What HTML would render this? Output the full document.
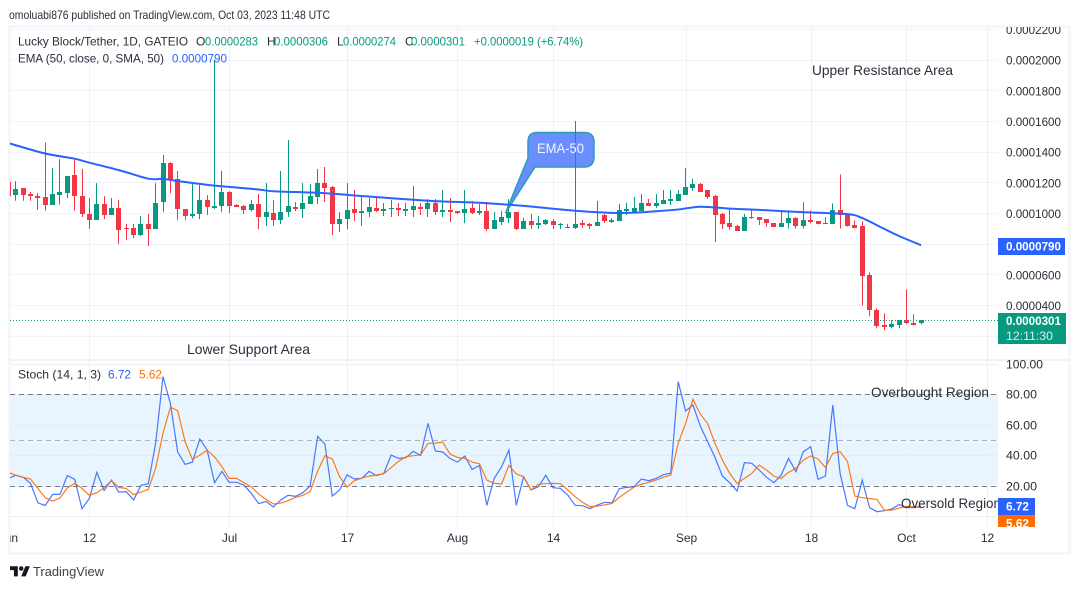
<!DOCTYPE html>
<html lang="en">
<head>
<meta charset="utf-8">
<title>Lucky Block/Tether chart</title>
<style>
html,body{margin:0;padding:0;background:#fff;width:1080px;height:589px;overflow:hidden}
svg{display:block}
text{font-family:"Liberation Sans",sans-serif;fill:#2a2e39}
</style>
</head>
<body>
<svg id="chart" xmlns="http://www.w3.org/2000/svg" width="1080" height="589" viewBox="0 0 1080 589">
  <defs>
    <clipPath id="main-clip"><rect x="10" y="27" width="988" height="332"/></clipPath>
    <clipPath id="stoch-clip"><rect x="10" y="361" width="988" height="165"/></clipPath>
    <clipPath id="tag-clip"><rect x="998" y="490" width="40" height="37"/></clipPath>
    <clipPath id="label-clip"><rect x="10" y="27" width="1059" height="526"/></clipPath>
  </defs>
  <text x="9" y="19" font-size="12" textLength="321" lengthAdjust="spacingAndGlyphs">omoluabi876 published on TradingView.com, Oct 03, 2023 11:48 UTC</text>
  <rect x="9.5" y="26.5" width="1060" height="527" fill="none" stroke="#f0f3fa" stroke-width="2"/>
  <line x1="10" y1="360" x2="1069" y2="360" stroke="#e6e8ef" stroke-width="1"/>
  <rect x="10" y="394" width="988" height="91.5" fill="#e9f5fe"/>
  <g id="grid"></g>
  <path d="M537 132.5 H584 Q594 132.5 594 142 V157 Q594 167 584 167 H535 L505.5 213 L528 158 V142 Q528 132.5 537 132.5 Z" fill="#6b8eff" stroke="#2d9cb5" stroke-width="1.5"/>
  <g id="candles" clip-path="url(#main-clip)"></g>
  <g id="ema" clip-path="url(#main-clip)"></g>
  <g id="stoch" clip-path="url(#stoch-clip)"></g>
  <text x="537" y="153" font-size="14" style="fill:#f4f6ff" textLength="47" lengthAdjust="spacingAndGlyphs">EMA-50</text>

  <g font-size="12">
    <text x="18" y="45.5" textLength="170" lengthAdjust="spacingAndGlyphs">Lucky Block/Tether, 1D, GATEIO</text>
    <text x="196" y="45.5">O</text>
    <text x="205" y="45.5" style="fill:#089981" textLength="53" lengthAdjust="spacingAndGlyphs">0.0000283</text>
    <text x="267" y="45.5">H</text>
    <text x="274" y="45.5" style="fill:#089981" textLength="54" lengthAdjust="spacingAndGlyphs">0.0000306</text>
    <text x="337" y="45.5">L</text>
    <text x="343" y="45.5" style="fill:#089981" textLength="53" lengthAdjust="spacingAndGlyphs">0.0000274</text>
    <text x="405" y="45.5">C</text>
    <text x="411" y="45.5" style="fill:#089981" textLength="54" lengthAdjust="spacingAndGlyphs">0.0000301</text>
    <text x="474" y="45.5" style="fill:#089981" textLength="109" lengthAdjust="spacingAndGlyphs">+0.0000019 (+6.74%)</text>
    <text x="18" y="62.5" textLength="146" lengthAdjust="spacingAndGlyphs">EMA (50, close, 0, SMA, 50)</text>
    <text x="172" y="62.5" style="fill:#2962ff" textLength="55" lengthAdjust="spacingAndGlyphs">0.0000790</text>
  </g>
  <text x="812" y="75" font-size="14" textLength="141" lengthAdjust="spacingAndGlyphs">Upper Resistance Area</text>
  <text x="187" y="354" font-size="14" textLength="123" lengthAdjust="spacingAndGlyphs">Lower Support Area</text>
  <g font-size="12">
    <text x="18" y="378.5" textLength="83" lengthAdjust="spacingAndGlyphs">Stoch (14, 1, 3)</text>
    <text x="108" y="378.5" style="fill:#2962ff" textLength="23" lengthAdjust="spacingAndGlyphs">6.72</text>
    <text x="139" y="378.5" style="fill:#ff6d00" textLength="23" lengthAdjust="spacingAndGlyphs">5.62</text>
  </g>
  <text x="871" y="397" font-size="14" textLength="118" lengthAdjust="spacingAndGlyphs">Overbought Region</text>
  <text x="901" y="508" font-size="14" textLength="100" lengthAdjust="spacingAndGlyphs">Oversold Region</text>

  <g id="axis-labels" clip-path="url(#label-clip)"></g>

  <rect x="998" y="238" width="67" height="17" fill="#2962ff"/>
  <text x="1006" y="250.5" font-size="12" font-weight="bold" style="fill:#fff" textLength="55" lengthAdjust="spacingAndGlyphs">0.0000790</text>
  <rect x="998" y="313" width="68" height="31" fill="#089981"/>
  <text x="1006" y="325" font-size="12" font-weight="bold" style="fill:#fff" textLength="55" lengthAdjust="spacingAndGlyphs">0.0000301</text>
  <text x="1006" y="340" font-size="12" style="fill:#d5f0ea" textLength="47" lengthAdjust="spacingAndGlyphs">12:11:30</text>
  <rect x="998" y="498" width="37" height="17" fill="#2962ff"/>
  <text x="1006" y="510.5" font-size="12" font-weight="bold" style="fill:#fff" textLength="23" lengthAdjust="spacingAndGlyphs">6.72</text>
  <g clip-path="url(#tag-clip)">
    <rect x="998" y="515" width="37" height="17" fill="#ff6d00"/>
    <text x="1006" y="527.5" font-size="12" font-weight="bold" style="fill:#fff" textLength="23" lengthAdjust="spacingAndGlyphs">5.62</text>
  </g>

  <g transform="translate(10 564) scale(0.56)" fill="#131722">
    <path d="M14 22H7V11H0V4h14v18zM28 22h-8l7.5-18h8L28 22z"/>
    <circle cx="20" cy="8" r="4"/>
  </g>
  <text x="33" y="576" font-size="12.5" style="fill:#3c404c" textLength="71" lengthAdjust="spacingAndGlyphs">TradingView</text>
</svg>
<script>
// Prices are in units of 0.000001 USDT. Index 0 is June 1, one candle per day.
const opens = [
120,111.9,116.3,112.4,111,110.4,105.4,111.7,113,124.8,
111,99.3,95.4,105.8,98.7,103.2,90.2,90.2,85.6,92.8,
89.5,107.1,132.6,122.1,102.6,98,99.3,108.4,103.2,104.5,
113.7,105.2,104.5,101.9,105.8,97.4,100,95.4,100.6,103.9,
102.6,105.8,110.4,119.5,116.9,92.8,96,102.6,100,100.6,
103.2,101.3,102.6,103.2,101.3,101.9,103.9,102.6,106.5,100.6,
101.9,101.3,100,103.2,100,101.3,89.5,94.1,96.7,100.6,
89.6,94.8,92.2,92.9,94.8,92.2,90.3,90.3,93.5,92.9,
91.6,98.7,94.2,94.8,101.3,100.7,101.3,106.6,104.6,105.9,
107.9,107.9,111.8,116.4,119,115,111.1,99.4,93.5,91.6,
88.3,97.4,97.4,96.1,93.3,91.1,93.3,96.7,91.7,95.2,
94.6,93.1,93,101.7,98.5,92,91.3,59.3,36.5,26.9,
25.9,27.2,30,28,28.3];
const highs = [
120,120.8,116.3,113.7,113,146,129.3,135.2,124.1,135.8,
128.7,109.7,119.5,111,109.8,108.4,92.8,92.8,98,99.3,
119.5,137.8,133.2,127.4,102.6,119.5,118.2,111.7,200,127.4,
114.3,105.8,105.2,108.4,112.4,119.5,108.4,127.4,147.6,107.1,
119.5,118.9,128.7,130,117.6,100.6,119.5,115,111.7,109.8,
111,106.5,108.4,106.5,106.5,117.6,106.5,109.1,109.1,115,
109.8,101.3,115,107.8,105.8,107.1,100.6,101.3,109,100.6,
96.8,99.4,98.1,96.1,96.1,93.5,92.9,160,95.5,93.5,
107.9,99.4,96.8,105.9,106.6,110.5,112.4,109.2,112.4,115,
115,115,129.4,122.2,119.6,115,111.8,100,102.7,92.2,
99.4,102.7,97.4,96.1,93.3,101.1,101.7,97.2,107,101.7,
94.6,97.2,106.3,125.2,98.5,95.2,94.6,61.3,37.8,34.6,
30,30,50.2,33.9,30];
const lows = [
108,108,108,108,102.1,101.5,105.4,105.4,109.8,101.5,
97.4,89.7,95.4,96,98.7,79.7,82.4,83.7,85,78.4,
89.5,100.6,113,95.4,95.4,96.7,96,98.7,102.6,100.6,
100,103.9,99.3,101,89.5,91.5,91.5,92.8,97.4,101.3,
96.7,105.8,105.8,107.1,85.6,87.6,89.5,94.8,91.5,97.4,
100.6,98,97.4,98,98,97.4,98.7,97.4,98.7,97.4,
94.1,99.3,93.4,99.3,98.7,88.2,89.5,92.1,93.4,88.9,
89.6,89.6,89.6,92.2,89.6,89.6,90.3,89.6,90.3,89.6,
91.6,93.5,93.5,94.8,98.7,100.7,101.3,104.6,103.3,105.9,
105.3,107.9,111.8,114.4,113.7,109.2,81.1,89.6,89,88.3,
88.3,96.1,92.2,91.1,91.1,91.1,89.8,89.8,89.8,93.3,
92.6,93,93,89.8,91.1,90,39.6,32.6,24.8,23.5,
24.8,24.8,27.4,26.7,27.4];
const closes = [
111,115.6,111.9,111,109.8,105.4,112.4,113.7,124.1,111,
99.5,95.4,105.8,98.7,103.2,88.9,89.5,85.6,92.8,89.5,
106.5,132.6,121.5,102.6,98,99.3,108.4,103.9,104.5,113.7,
104.5,103.9,101.9,105.8,97.4,100.6,95.4,100.6,104.5,102.6,
106.5,111,119.5,116.3,92.8,96,101.9,100,101.3,103.9,
101.3,102.6,103.2,101.9,102.6,104.5,102.6,106.5,100.6,101.9,
100.6,100,102.6,100,101.3,89.5,95.4,97.4,100.6,89.5,
94.8,92.2,93.5,95.5,92.2,92.9,90.9,92.9,92.2,91.6,
94.2,94.8,95.5,102,102.7,103.3,106.6,104.6,106.6,108.5,
109.2,112.4,117,119,113.7,110.5,98.7,92.9,90.9,88.3,
97.4,96.8,95.5,93.3,91.1,93.3,96.5,91.7,95.2,93.9,
92.6,93.3,101.7,98.5,91.7,90,58.9,36.5,26.5,25.9,
27.6,30,28,26.9,30.1];
// EMA readings taken at selected days.
const emaDays = [0,5,9,11,15,19,21,24,28,34,36,43,48,57,64,70,77,83,88,91,94,98,102,109,114,116,119,121,124];
const emaValues = [145.6,138.8,135.4,132.8,128,122.4,122.2,120.2,117.9,115.3,114.2,112.9,111.1,108,106.7,104.6,101.5,100,101.1,102.3,104.1,102.9,102,100.3,99.3,96.7,89.6,85,79];
const stochK = [
24.8,26.8,25.5,21.5,8.8,7,14.3,14.3,26.6,24.2,
4.9,11.7,28.8,16.9,23.7,15.8,16.1,10.6,20.2,21.3,
47.8,91.6,74,42.1,34,35.5,50.6,43.4,22,29.4,
22.2,22.2,20.4,15,8.2,9.7,6,10.6,13.7,13,
15.4,19.8,52.4,47.4,13.2,17.2,
27,24.4,24.8,29.4,26.6,28.1,40.1,37.9,38.4,42.5,
39.9,60.9,42.8,42.1,37.9,35.5,39.5,30.7,33.3,7.1,
24.8,32.5,43.4,7.1,25.9,17.2,19.3,26.8,18.7,18.2,
13.9,7.1,6.9,4.9,7.3,9.1,8.8,18,18.9,19.3,
24.4,23.3,24.8,27.2,28.3,88.3,
69,73,59.2,48.9,38.6,26.3,22,16.5,35.1,34.7,
30.3,25.5,22,27,37.9,29.2,42.3,45.6,24.2,26.3,
73,28.1,7.1,4.9,23.7,5.6,2.9,3.6,4.7,7.6,
5.6,5.6,6.72];
const stochD = [
28.8,26.8,25.5,24.4,18.2,12.1,9.9,11.9,18.5,21.5,
18.2,13.7,15.4,18.7,23.3,18.9,18.2,14.1,15.8,17.6,
31.4,54.4,71.6,69.2,48.9,37.3,40.1,43.4,39,32.5,
24.8,24.8,22,19.3,14.5,11,8,8.6,10.2,12.3,
13.7,16.1,29.6,39.7,37.5,25.9,
19.1,23.3,25,26.3,27,27.9,32,36,39,39.7,
40.1,47.8,48,48.7,40.8,38.6,37.9,35.5,34.4,23.7,
21.5,21.1,33.3,27.7,25.9,17.2,20.9,21.3,21.5,21.3,
17.2,12.8,9.1,6.2,6.7,7.3,8.4,12.3,15.8,19.1,
20.9,22.2,23.7,25.5,27,47.8,
60.9,76.7,67,60.9,47.8,36.8,28.1,21.5,24.8,28.1,
33.6,30.3,26.3,24.8,28.8,31.4,36.8,39.5,37.5,32,
41.2,42.3,35.8,13.2,12.1,11.5,11,4,4,5.3,
6.4,6.2,5.62];
const priceTicks = [220,200,180,160,140,120,100,80,60,40,20];
const priceTickLabels = ["0.0002200","0.0002000","0.0001800","0.0001600","0.0001400","0.0001200","0.0001000","","0.0000600","0.0000400",""];
const stochTicks = [100,80,60,40,20,0];
const stochTickLabels = ["100.00","80.00","60.00","40.00","20.00",""];
const stochLevels = [80,50,20];
const timeTickDays = [0,11,30,46,61,74,92,109,122,133];
const timeTickLabels = ["Jun","12","Jul","17","Aug","14","Sep","18","Oct","12"];

const NS = "http://www.w3.org/2000/svg";
function dayX(i){ return 8.44 + 7.36 * i; }
function priceY(v){ return 213 - (v - 100) * 1.533; }
function stochY(v){ return 485.7 - (v - 20) * 1.523; }
function shape(tag, parent, attrs){
  const node = document.createElementNS(NS, tag);
  for (const k in attrs) node.setAttribute(k, attrs[k]);
  parent.appendChild(node);
  return node;
}
function smoothPath(points){
  let d = "M" + points[0][0].toFixed(1) + " " + points[0][1].toFixed(1);
  for (let n = 0; n < points.length - 1; n++) {
    const p0 = points[Math.max(0, n - 1)];
    const p1 = points[n];
    const p2 = points[n + 1];
    const p3 = points[Math.min(points.length - 1, n + 2)];
    const c1x = p1[0] + (p2[0] - p0[0]) / 6;
    const c1y = p1[1] + (p2[1] - p0[1]) / 6;
    const c2x = p2[0] - (p3[0] - p1[0]) / 6;
    const c2y = p2[1] - (p3[1] - p1[1]) / 6;
    d += " C" + c1x.toFixed(1) + " " + c1y.toFixed(1) + " " + c2x.toFixed(1) + " " + c2y.toFixed(1) + " " + p2[0].toFixed(1) + " " + p2[1].toFixed(1);
  }
  return d;
}
const gridG = document.getElementById("grid");
const labelsG = document.getElementById("axis-labels");

priceTicks.forEach(function(t, n){
  const y = Math.round(priceY(t)) + 0.5;
  const line = shape("line", gridG, {x1:10, x2:998, y1:y, y2:y, stroke:"#f0f3fa"});
  
  
  if (priceTickLabels[n]) {
    const label = shape("text", labelsG, {x:1006, y:priceY(t) + 5, "font-size":12, textLength:55, lengthAdjust:"spacingAndGlyphs"});
    label.textContent = priceTickLabels[n];
    
    
  }
});
stochTicks.forEach(function(t, n){
  const y = Math.round(stochY(t)) + 0.5;
  const line = shape("line", gridG, {x1:10, x2:998, y1:y, y2:y, stroke:"#e4e8f0", "stroke-opacity":0.75});
  
  
  if (stochTickLabels[n]) {
    const label = shape("text", labelsG, {x:1006, y:y + 4, "font-size":12, textLength:stochTickLabels[n].length > 5 ? 37 : 31, lengthAdjust:"spacingAndGlyphs"});
    label.textContent = stochTickLabels[n];
    
    
  }
});
timeTickDays.forEach(function(d, n){
  const x = Math.round(dayX(d)) + 0.5;
  if (n > 0) {
    const line = shape("line", gridG, {x1:x, x2:x, y1:27, y2:526, stroke:"#eef0f6"});
    
    
  }
  const label = shape("text", labelsG, {x:n === 0 ? 18 : x, y:542, "font-size":12, "text-anchor":n === 0 ? "end" : "middle"});
  label.textContent = timeTickLabels[n];
  
  
});
stochLevels.forEach(function(v){
  const y = Math.round(stochY(v)) + 0.5;
  const line = shape("line", gridG, {x1:10, x2:998, y1:y, y2:y, stroke:"#787b86", "stroke-dasharray":"5 4", "stroke-opacity":v === 50 ? 0.55 : 1});
  
  
});

const candlesG = document.getElementById("candles");
opens.forEach(function(o, i){
  const c = closes[i];
  const color = c >= o ? "#089981" : "#f23645";
  const x = Math.floor(dayX(i));
  const g = shape("g", candlesG, {});
  
  
  const wick = shape("rect", g, {x:x, y:priceY(highs[i]), width:1, height:Math.max(1, priceY(lows[i]) - priceY(highs[i])), fill:color});
  
  
  const top = Math.round(priceY(Math.max(o, c)));
  const bot = Math.round(priceY(Math.min(o, c)));
  const body = shape("rect", g, {x:x - 2, y:top, width:5, height:Math.max(1, bot - top), fill:color});
  
  
});
const lastClose = closes[closes.length - 1];
const lastY = Math.round(priceY(lastClose)) + 0.5;
const lastLine = shape("line", candlesG, {x1:10, x2:998, y1:lastY, y2:lastY, stroke:"#089981", "stroke-dasharray":"1 2"});



const emaPath = shape("path", document.getElementById("ema"), {
  d: smoothPath(emaDays.map(function(d, n){ return [dayX(d), priceY(emaValues[n])]; })),
  fill:"none", stroke:"#2962ff", "stroke-width":2, "stroke-linejoin":"round"
});



const stochG = document.getElementById("stoch");
const kLine = shape("polyline", stochG, {
  points: stochK.map(function(v, i){ return dayX(i).toFixed(1) + "," + stochY(v).toFixed(1); }).join(" "),
  fill:"none", stroke:"#2962ff", "stroke-width":1.2, "stroke-opacity":0.85
});


const dLine = shape("polyline", stochG, {
  points: stochD.map(function(v, i){ return dayX(i).toFixed(1) + "," + stochY(v).toFixed(1); }).join(" "),
  fill:"none", stroke:"#ff6d00", "stroke-width":1.2, "stroke-opacity":0.9
});


</script>
</body>
</html>
